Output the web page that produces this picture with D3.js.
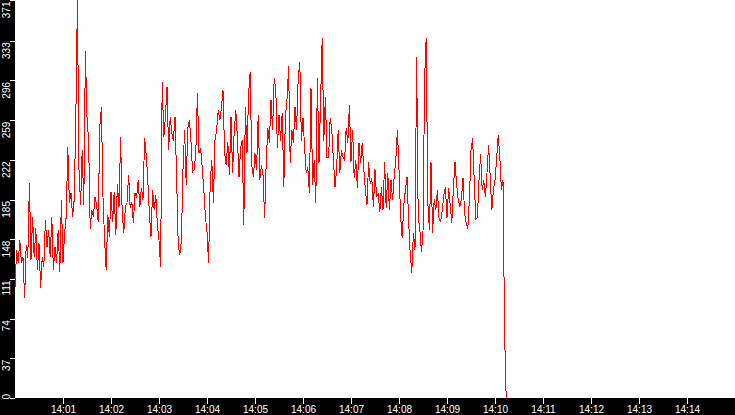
<!DOCTYPE html>
<html>
<head>
<meta charset="utf-8">
<script src="https://cdn.jsdelivr.net/npm/d3@7"></script>
<style>
  html, body { margin: 0; padding: 0; background: #000; overflow: hidden; }
  svg { display: block; }
  .tick text { font-family: "Liberation Sans", Arial, sans-serif; font-size: 10px; fill: #fff; }
  .tick line { stroke: #fff; shape-rendering: crispEdges; }
</style>
</head>
<body>
<div id="chart"></div>
<script>
const WIDTH = 735;
const HEIGHT = 415;
const MARGIN = { left: 15, bottom: 17 };

// time window and sampling of the series
const START_TIME = "14:00";
const END_TIME = "14:15";
const STEP_SECONDS = 2;

const X_TICKS = ["14:01", "14:02", "14:03", "14:04", "14:05", "14:06", "14:07",
                 "14:08", "14:09", "14:10", "14:11", "14:12", "14:13", "14:14"];
const Y_TICKS = [0, 37, 74, 111, 148, 185, 222, 259, 296, 333, 371];
const Y_MAX = 371;

// samples, one every STEP_SECONDS from START_TIME
const VALUES_1400 = [103, 138, 126, 147, 126, 131, 93, 143, 131, 200, 129, 169, 131, 158, 119, 144,
                     103, 131, 122, 166, 141, 157, 131, 169, 119, 141, 126, 157, 117, 185, 126, 154,
                     169, 234, 182, 191, 169, 185, 259, 371, 213, 180, 231, 180];
const VALUES_1401 = [323, 262, 240, 158, 175, 169, 187, 180, 164, 253, 271, 187, 147, 119, 171, 150,
                     192, 164, 192, 152, 199, 178, 243, 172, 154, 178, 182, 208, 177, 183, 163, 191,
                     187, 203, 178, 196, 185, 242, 227, 203, 171, 150, 194, 175];
const VALUES_1403 = [189, 161, 147, 122, 295, 243, 262, 290, 231, 262, 247, 240, 262, 206, 144, 133,
                     147, 213, 250, 199, 252, 259, 239, 211, 213, 228, 284, 228, 233, 215, 194, 169,
                     155, 126, 200, 222, 182, 240, 250, 268, 259, 270, 287, 228, 217, 239, 208, 262,
                     210, 248, 268, 243, 206, 233, 240, 161, 271, 228, 284, 304, 217, 206, 228, 213,
                     264, 203, 217, 208, 168, 219, 252, 238, 278, 250, 298, 287, 233, 264];
const VALUES_1405 = [240, 266, 197, 262, 278, 309, 219, 250, 238, 271, 250, 298, 313, 240, 261, 234,
                     210, 215, 191, 289, 199, 222, 182, 298, 219, 278, 336, 240, 281, 224, 224, 261,
                     250, 222, 197, 213, 250, 210, 231, 225, 222, 252, 238, 273, 220, 250, 205];
const VALUES_1407 = [222, 196, 238, 219, 238, 213, 194, 180, 220, 200, 205, 178, 213, 187, 191, 173,
                     197, 175, 220, 177, 210, 175, 203, 185, 206, 222, 250, 213, 169, 149, 180, 194,
                     206, 166, 135, 117, 154, 138, 318, 169, 158, 136, 154, 298, 336, 182, 157];
const VALUES_1408 = [220, 154, 185, 175, 194, 168, 164, 175, 189, 197, 168, 196, 180, 163, 196, 220,
                     200, 185, 178, 185, 205, 172, 163, 158, 185, 231, 242, 203, 167, 168, 203, 227,
                     194, 203, 187, 210, 236, 206, 175, 194, 203, 222, 245, 225, 194, 203, 61, 0];

const parseTime = d3.timeParse("%H:%M");
const START = parseTime(START_TIME);

const DATA = [...VALUES_1400, ...VALUES_1401, ...VALUES_1403, ...VALUES_1405, ...VALUES_1407, ...VALUES_1408]
  .map((value, i) => ({ time: d3.timeSecond.offset(START, i * STEP_SECONDS), value }));

const svg = d3.select("#chart")
              .append("svg")
              .attr("width", WIDTH)
              .attr("height", HEIGHT);

svg.append("rect")
   .attr("width", WIDTH)
   .attr("height", HEIGHT)
   .attr("fill", "#000");

const x = d3.scaleTime()
            .domain([START, parseTime(END_TIME)])
            .range([MARGIN.left, WIDTH]);

const y = d3.scaleLinear()
            .domain([0, Y_MAX])
            .range([HEIGHT - MARGIN.bottom, 0]);

svg.append("rect")
   .attr("x", MARGIN.left)
   .attr("y", 0)
   .attr("width", WIDTH - MARGIN.left)
   .attr("height", HEIGHT - MARGIN.bottom)
   .attr("fill", "#fff");

const line = d3.line()
               .x(d => x(d.time))
               .y(d => y(d.value));

svg.append("path")
   .datum(DATA)
   .attr("d", line)
   .attr("fill", "none")
   .attr("stroke", "#ff0000")
   .attr("stroke-width", 1)
   .style("shape-rendering", "crispEdges");

// y axis: labels turned on their side, reading upwards
const yAxis = svg.append("g")
                 .attr("transform", `translate(${MARGIN.left},0)`)
                 .call(d3.axisLeft(y).tickValues(Y_TICKS).tickSize(5).tickFormat(d3.format("d")));

yAxis.select(".domain").remove();
yAxis.selectAll(".tick text")
     .attr("transform", "rotate(-90)")
     .attr("x", -1)
     .attr("y", -5)
     .attr("dy", 0)
     .attr("text-anchor", d => d === 0 ? "start" : "end");

const xAxis = svg.append("g")
                 .attr("transform", `translate(0,${HEIGHT - MARGIN.bottom})`)
                 .call(d3.axisBottom(x)
                         .tickValues(X_TICKS.map(parseTime))
                         .tickSize(6)
                         .tickFormat(d3.timeFormat("%H:%M")));

xAxis.select(".domain").remove();
xAxis.selectAll(".tick text").attr("y", 8);
</script>
</body>
</html>
